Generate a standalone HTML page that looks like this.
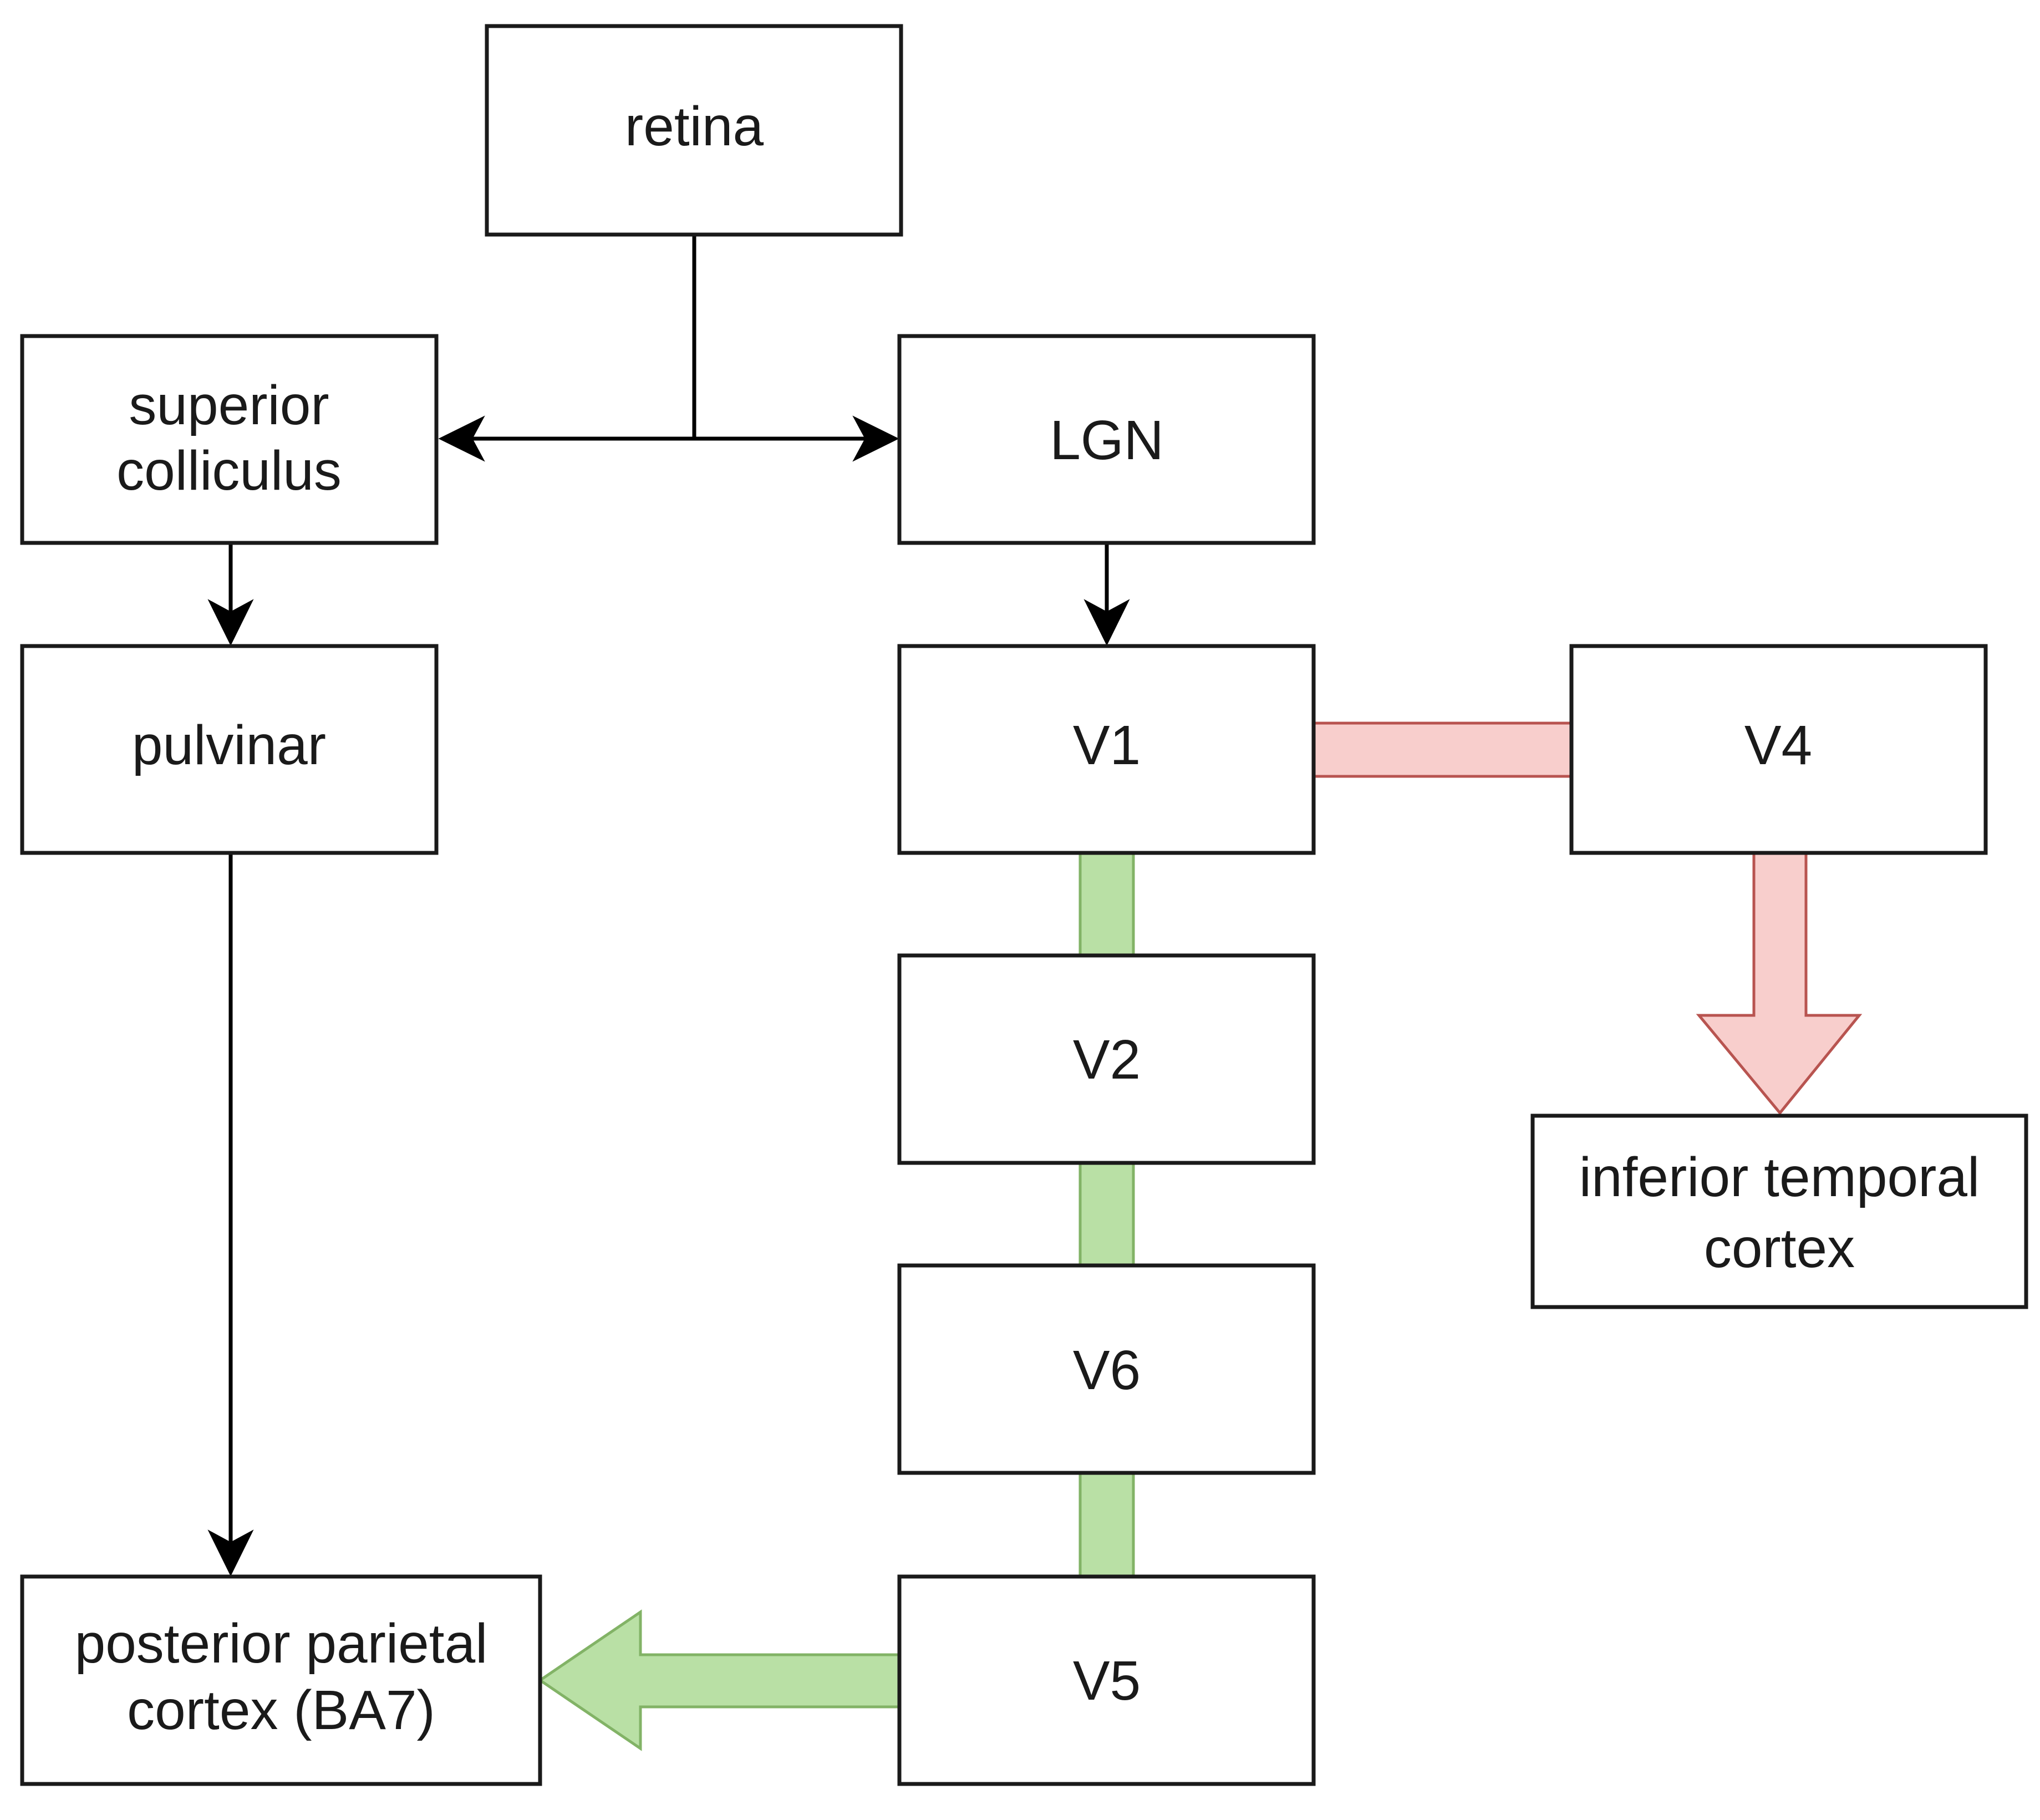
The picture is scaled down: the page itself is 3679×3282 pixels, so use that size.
<!DOCTYPE html>
<html><head><meta charset="utf-8"><style>html,body{margin:0;padding:0;background:#fff}svg{display:block}</style></head><body>
<svg width="3679" height="3282" viewBox="0 0 3679 3282" xmlns="http://www.w3.org/2000/svg">
<rect width="3679" height="3282" fill="#fff"/>
<g stroke="#000" stroke-width="7" fill="none">
<line x1="1252" y1="423" x2="1252" y2="791"/>
<line x1="830" y1="791" x2="1580" y2="791"/>
<line x1="416" y1="979" x2="416" y2="1120"/>
<line x1="1996" y1="979" x2="1996" y2="1120"/>
<line x1="416" y1="1538" x2="416" y2="2800"/>
</g>
<g fill="#000" stroke="#000" stroke-width="4" stroke-linejoin="miter">
<polygon points="795,791 870,754 850,791 870,828"/>
<polygon points="1617,791 1542,754 1562,791 1542,828"/>
<polygon points="416,1160 379,1085 416,1105 453,1085"/>
<polygon points="1996,1160 1959,1085 1996,1105 2033,1085"/>
<polygon points="416,2838 379,2763 416,2783 453,2763"/>
</g>
<g fill="#b9e0a5" stroke="#82b366" stroke-width="5">
<rect x="1948" y="1538" width="96" height="185"/>
<rect x="1948" y="2097" width="96" height="185"/>
<rect x="1948" y="2656" width="96" height="187"/>
<polygon points="1622,2984 1155,2984 1155,2907 974,3030 1155,3153 1155,3078 1622,3078"/>
</g>
<g fill="#f8cecc" stroke="#b85450" stroke-width="5">
<rect x="2369" y="1304" width="465" height="96"/>
<polygon points="3163,1538 3257,1538 3257,1831 3353,1831 3210,2007 3064,1831 3163,1831"/>
</g>
<g fill="#fff" stroke="#1a1a1a" stroke-width="7">
<rect x="878" y="47" width="747" height="376"/>
<rect x="40" y="606" width="747" height="373"/>
<rect x="1622" y="606" width="747" height="373"/>
<rect x="40" y="1165" width="747" height="373"/>
<rect x="1622" y="1165" width="747" height="373"/>
<rect x="2834" y="1165" width="747" height="373"/>
<rect x="1622" y="1723" width="747" height="374"/>
<rect x="1622" y="2282" width="747" height="374"/>
<rect x="1622" y="2843" width="747" height="374"/>
<rect x="2764" y="2012" width="890" height="345"/>
<rect x="40" y="2843" width="934" height="374"/>
</g>
<g font-family="Liberation Sans, sans-serif" font-size="100" fill="#1a1a1a" text-anchor="middle">
<text x="1252" y="262">retina</text>
<text x="413" y="765">superior</text>
<text x="413" y="883">colliculus</text>
<text x="1996" y="828">LGN</text>
<text x="413" y="1378">pulvinar</text>
<text x="1996" y="1378">V1</text>
<text x="3207" y="1378">V4</text>
<text x="1996" y="1945">V2</text>
<text x="1996" y="2505">V6</text>
<text x="1996" y="3065">V5</text>
<text x="3209" y="2157">inferior temporal</text>
<text x="3209" y="2285">cortex</text>
<text x="507" y="2998">posterior parietal</text>
<text x="507" y="3118">cortex (BA7)</text>
</g>
</svg>
</body></html>
